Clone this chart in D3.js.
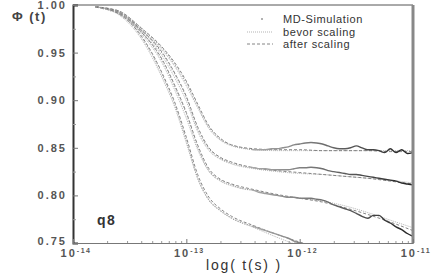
<!DOCTYPE html>
<html>
<head>
<meta charset="utf-8">
<script src="https://cdn.jsdelivr.net/npm/d3@7"></script>
<style>
body{margin:0;background:#ffffff;}
svg{display:block;font-family:"Liberation Sans",Arial,sans-serif;}
</style>
</head>
<body>
<svg id="chart" width="436" height="273"></svg>
<script>
// log10 of time for the MD points (finer at long times)
var mdLogT = [-13.8,-13.7,-13.6,-13.5,-13.4,-13.3,-13.2,-13.1,-13.0,-12.9,-12.8,-12.7,-12.6,-12.5,-12.4,
  -12.35,-12.3,-12.25,-12.2,-12.15,-12.1,-12.05,-12.0,-11.95,-11.9,-11.85,-11.8,-11.75,-11.7,-11.65,
  -11.6,-11.55,-11.5,-11.45,-11.4,-11.35,-11.3,-11.25,-11.2,-11.15,-11.1,-11.05,-11.0];

var md1 = [0.998,0.996,0.994,0.986,0.976,0.965,0.953,0.937,0.918,0.894,0.872,0.859,0.853,0.850,0.848,
  0.848,0.848,0.849,0.849,0.850,0.851,0.853,0.854,0.855,0.8555,0.855,0.854,0.852,0.850,0.849,
  0.849,0.850,0.852,0.850,0.848,0.848,0.847,0.845,0.849,0.845,0.848,0.844,0.845];
var md2 = [0.998,0.996,0.993,0.985,0.974,0.962,0.947,0.927,0.903,0.870,0.849,0.839,0.834,0.831,0.829,
  0.828,0.828,0.827,0.827,0.827,0.827,0.828,0.829,0.829,0.8295,0.829,0.828,0.826,0.825,0.824,
  0.823,0.822,0.822,0.821,0.820,0.819,0.818,0.817,0.816,0.815,0.813,0.812,0.811];
var md3 = [0.998,0.996,0.992,0.984,0.972,0.958,0.939,0.914,0.886,0.851,0.826,0.816,0.811,0.807,0.805,
  0.803,0.802,0.801,0.800,0.799,0.798,0.798,0.797,0.797,0.797,0.796,0.795,0.793,0.790,0.788,
  0.786,0.784,0.781,0.778,0.776,0.779,0.779,0.774,0.771,0.767,0.764,0.760,0.757];
var md4 = [0.998,0.995,0.991,0.982,0.967,0.948,0.923,0.895,0.858,0.818,0.795,0.784,0.776,0.771,0.767,
  0.765,0.763,0.761,0.759,0.757,0.755,0.752,0.750,0.748,0.746,0.744,0.742,0.740,0.738,0.737,
  0.735,0.734,0.732,0.731,0.729,0.728,0.727,0.726,0.724,0.723,0.722,0.721,0.720];

// model curves
var fitLogT = [-13.8,-13.6,-13.4,-13.2,-13.1,-13.0,-12.9,-12.8,-12.7,-12.6,-12.4,-12.2,-12.0,-11.8,-11.6,-11.4,-11.2,-11.0];

var bevor1 = [0.998,0.993,0.974,0.951,0.935,0.915,0.892,0.870,0.858,0.852,0.848,0.847,0.847,0.847,0.847,0.847,0.847,0.847];
var bevor2 = [0.998,0.992,0.972,0.944,0.923,0.899,0.867,0.847,0.838,0.833,0.828,0.825,0.823,0.822,0.820,0.818,0.816,0.813];
var bevor3 = [0.998,0.991,0.970,0.936,0.910,0.881,0.848,0.825,0.815,0.810,0.805,0.800,0.797,0.794,0.789,0.782,0.774,0.766];
var bevor4 = [0.998,0.990,0.965,0.920,0.892,0.855,0.818,0.795,0.784,0.776,0.766,0.756,0.747,0.739,0.732,0.726,0.720,0.715];

var after1 = [0.998,0.994,0.976,0.954,0.939,0.920,0.896,0.873,0.860,0.853,0.849,0.848,0.848,0.847,0.847,0.847,0.846,0.846];
var after2 = [0.998,0.993,0.974,0.948,0.928,0.904,0.872,0.850,0.840,0.835,0.829,0.826,0.824,0.822,0.820,0.818,0.815,0.812];
var after3 = [0.998,0.992,0.972,0.940,0.915,0.887,0.853,0.828,0.817,0.812,0.806,0.801,0.797,0.793,0.787,0.780,0.772,0.763];
var after4 = [0.998,0.991,0.968,0.925,0.897,0.861,0.822,0.798,0.786,0.778,0.768,0.759,0.751,0.744,0.737,0.730,0.724,0.718];

var yTicks = [0.75,0.80,0.85,0.90,0.95,1.00];
var yMinor = [0.775,0.825,0.875,0.925,0.975];
var xDecades = [-14,-13,-12,-11];
var legendLabels = ["MD-Simulation","bevor scaling","after scaling"];

var pL = 73, pR = 413, pT = 5, pB = 243;

var svg = d3.select("#chart");

var x = d3.scaleLog().domain([1e-14,1e-11]).range([pL,pR]);
var y = d3.scaleLinear().domain([0.75,1.0]).range([pB,pT]);

var defs = svg.append("defs");
defs.append("clipPath").attr("id","plotclip").append("rect")
  .attr("x",pL).attr("y",pT).attr("width",pR-pL).attr("height",pB-pT);
defs.append("clipPath").attr("id","earlyclip").append("rect")
  .attr("x",pL).attr("y",pT).attr("width",252-pL).attr("height",pB-pT);
defs.append("clipPath").attr("id","lateclip").append("rect")
  .attr("x",252).attr("y",pT).attr("width",pR-252).attr("height",pB-pT);
var grad = defs.append("linearGradient").attr("id","mdgrad")
  .attr("gradientUnits","userSpaceOnUse")
  .attr("x1",252).attr("x2",pR).attr("y1",0).attr("y2",0);
grad.append("stop").attr("offset","0").attr("stop-color","#aaaaaa");
grad.append("stop").attr("offset","0.5").attr("stop-color","#666666");
grad.append("stop").attr("offset","1").attr("stop-color","#222222");

function pts(lt, vals){
  return lt.map(function(d,i){ return [Math.pow(10,d), vals[i]]; });
}
var line = d3.line()
  .x(function(d){ return x(d[0]); })
  .y(function(d){ return y(d[1]); })
  .curve(d3.curveMonotoneX);

var plot = svg.append("g").attr("clip-path","url(#plotclip)");

[bevor1,bevor2,bevor3,bevor4].forEach(function(s){
  plot.append("path").attr("d",line(pts(fitLogT,s)))
    .attr("fill","none").attr("stroke","#aaaaaa").attr("stroke-width",0.9)
    .attr("stroke-dasharray","1,1");
});
[after1,after2,after3,after4].forEach(function(s){
  plot.append("path").attr("d",line(pts(fitLogT,s)))
    .attr("fill","none").attr("stroke","#777777").attr("stroke-width",0.9)
    .attr("stroke-dasharray","3,2");
});
[md1,md2,md3,md4].forEach(function(s){
  var d = line(pts(mdLogT,s));
  plot.append("g").attr("clip-path","url(#earlyclip)").append("path").attr("d",d)
    .attr("fill","none").attr("stroke","#999999").attr("stroke-width",1.1)
    .attr("stroke-dasharray","1,1.5");
  plot.append("g").attr("clip-path","url(#lateclip)").append("path").attr("d",d)
    .attr("fill","none").attr("stroke","url(#mdgrad)").attr("stroke-width",1.4);
});

// frame
svg.append("line").attr("x1",pL).attr("x2",pR).attr("y1",pT).attr("y2",pT)
  .attr("stroke","#555555").attr("stroke-width",1);
svg.append("line").attr("x1",pR).attr("x2",pR).attr("y1",pT).attr("y2",pB)
  .attr("stroke","#888888").attr("stroke-width",3);

// y axis
var yAxis = svg.append("g").attr("transform","translate("+pL+",0)")
  .call(d3.axisLeft(y).tickValues(yTicks).tickSize(-5).tickPadding(6).tickFormat(d3.format(".2f")));
yAxis.select(".domain").attr("stroke","#333333").attr("stroke-width",2);
yAxis.selectAll(".tick line").attr("stroke","#777777");
yAxis.selectAll(".tick text").attr("font-size",11).attr("fill","#555555")
  .attr("font-family","Liberation Sans, Arial, sans-serif").attr("letter-spacing",2)
  .attr("font-weight","bold")
  .attr("dy",function(d){ return d === 0.75 ? "0.1em" : "0.32em"; });
svg.append("g").attr("transform","translate("+pL+",0)")
  .call(d3.axisLeft(y).tickValues(yMinor).tickSize(-3).tickFormat(""))
  .call(function(g){ g.select(".domain").remove(); g.selectAll("line").attr("stroke","#999999"); });

// x axis
var xMinor = [];
xDecades.slice(0,3).forEach(function(e){
  for (var k=2;k<10;k++) xMinor.push(k*Math.pow(10,e));
});
var xAxis = svg.append("g").attr("transform","translate(0,"+pB+")")
  .call(d3.axisBottom(x).tickValues(xDecades.map(function(e){ return Math.pow(10,e); }))
    .tickSize(-4).tickFormat(""));
xAxis.select(".domain").attr("stroke","#777777");
xAxis.selectAll(".tick line").attr("stroke","#777777");
svg.append("g").attr("transform","translate(0,"+pB+")")
  .call(d3.axisBottom(x).tickValues(xMinor).tickSize(-2).tickFormat(""))
  .call(function(g){ g.select(".domain").remove(); g.selectAll("line").attr("stroke","#999999"); });

xDecades.forEach(function(e){
  var t = svg.append("text").attr("x",x(Math.pow(10,e))+3).attr("y",257)
    .attr("text-anchor","middle").attr("fill","#555555").attr("font-size",11)
    .attr("font-weight","bold").attr("letter-spacing",2);
  t.append("tspan").text("10");
  t.append("tspan").attr("dy",-4).attr("font-size",7).attr("letter-spacing",1.5).text("-" + Math.abs(e));
});

// labels
svg.append("text").attr("x",12).attr("y",21).attr("font-size",13).attr("font-weight","bold")
  .attr("fill","#444444").attr("letter-spacing",1.5).text("\u03A6 (t)");
svg.append("text").attr("x",244).attr("y",270).attr("text-anchor","middle")
  .attr("font-size",14).attr("fill","#333333").attr("letter-spacing",1.8).text("log( t(s) )");
svg.append("text").attr("x",97).attr("y",225).attr("font-size",14).attr("font-weight","bold")
  .attr("fill","#333333").attr("letter-spacing",1.5).text("q8");

// legend
var leg = svg.append("g");
leg.append("circle").attr("cx",262).attr("cy",19).attr("r",1).attr("fill","#999999");
leg.append("line").attr("x1",247).attr("x2",273).attr("y1",32).attr("y2",32)
  .attr("stroke","#aaaaaa").attr("stroke-width",0.9).attr("stroke-dasharray","1,1");
leg.append("line").attr("x1",247).attr("x2",273).attr("y1",44).attr("y2",44)
  .attr("stroke","#777777").attr("stroke-width",0.9).attr("stroke-dasharray","3,2");
legendLabels.forEach(function(l,i){
  leg.append("text").attr("x",283).attr("y",23+i*12.5).attr("font-size",11)
    .attr("fill","#333333").attr("letter-spacing",0.6).text(l);
});
</script>
</body>
</html>
